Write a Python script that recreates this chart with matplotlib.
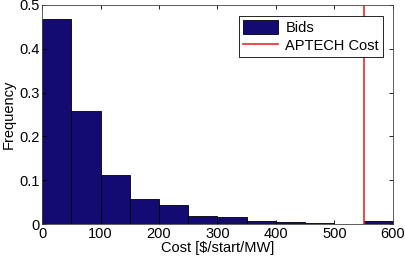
import matplotlib
matplotlib.use("Agg")
import matplotlib.pyplot as plt
import numpy as np

plt.rcParams['font.family'] = ['Liberation Sans', 'DejaVu Sans']

# histogram bins (left edges) and relative frequencies
bin_edges = [0, 50, 100, 150, 200, 250, 300, 350, 400, 450, 500, 550, 600]
frequency = [0.467, 0.258, 0.113, 0.057, 0.043, 0.018, 0.017, 0.008, 0.004, 0.003, 0.0005, 0.008]
aptech_cost = 550

fig = plt.figure(figsize=(4.05, 2.6), dpi=100)
ax = fig.add_axes([0.104, 0.138, 0.866, 0.843])

bars = ax.bar(bin_edges[:-1], frequency, width=np.diff(bin_edges), align='edge',
              color='#130b72', edgecolor='black', linewidth=0.6, label='Bids')
line = ax.axvline(aptech_cost, color='#e8292b', linewidth=1.2, label='APTECH Cost')

ax.set_xlim(0, 600)
ax.set_ylim(0, 0.5)
ax.set_xticks([0, 100, 200, 300, 400, 500, 600])
ax.set_yticks([0, 0.1, 0.2, 0.3, 0.4, 0.5])
ax.set_yticklabels(['0', '0.1', '0.2', '0.3', '0.4', '0.5'])
ax.tick_params(direction='in', top=True, right=True, labelsize=10.5, length=3, width=0.6, pad=2)
for s in ax.spines.values():
    s.set_linewidth(0.6)
    s.set_color('#444444')

ax.set_xlabel('Cost [$/start/MW]', fontsize=10.5, labelpad=0)
ax.set_ylabel('Frequency', fontsize=10.5, labelpad=2)

leg = ax.legend([bars, line], ['Bids', 'APTECH Cost'], loc='upper left',
                bbox_to_anchor=(0.54, 0.985), fontsize=10.5, fancybox=False,
                framealpha=1, edgecolor='black', handlelength=2.4, handleheight=1.1,
                borderpad=0.3, labelspacing=0.2, handletextpad=0.5)
leg.get_frame().set_linewidth(0.6)

fig.savefig('out.png', dpi=100)
